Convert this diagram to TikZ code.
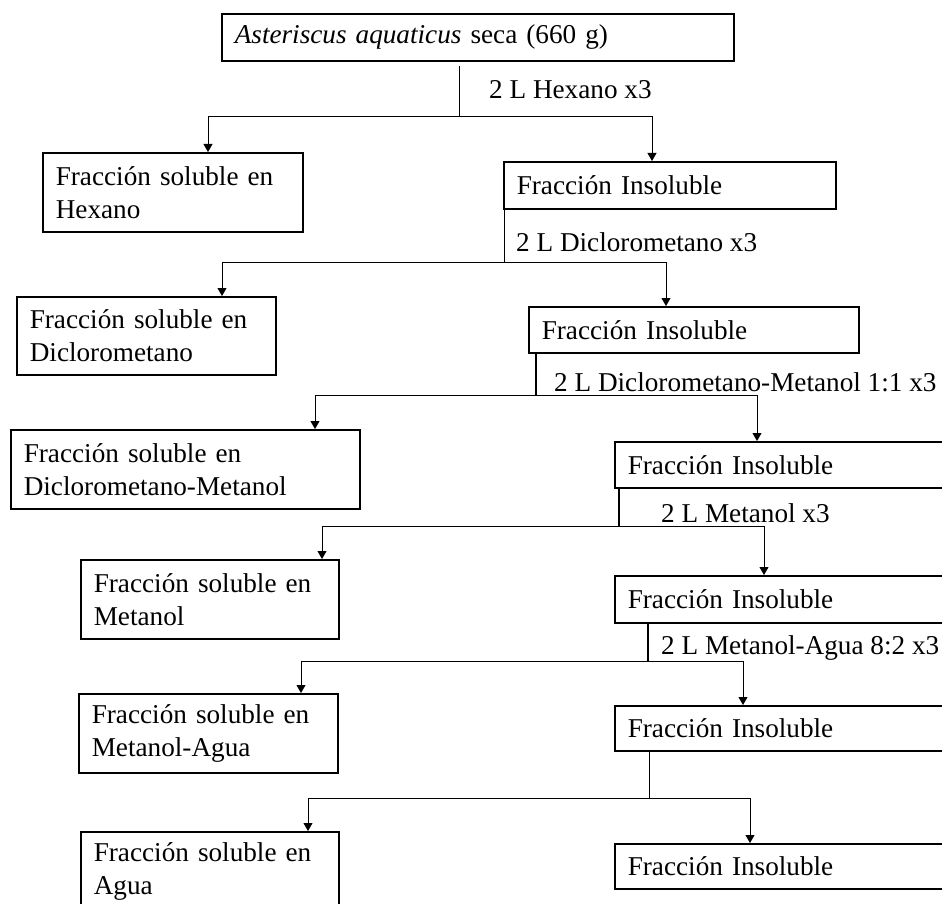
\documentclass[tikz,border=0pt]{standalone}
\usepackage{fontspec}
\setmainfont{Liberation Serif}
\usetikzlibrary{arrows.meta}
\begin{document}
\begin{tikzpicture}
[x=1pt,y=-1pt,
  caja/.style={draw,line width=1.6pt,anchor=north west,inner xsep=13pt,inner ysep=0pt,align=left},%
  flecha/.style={-{Triangle[length=8pt,width=9pt]},line width=0.8pt},%
  every node/.style={font=\fontsize{27.2}{33}\selectfont}]
\useasboundingbox (0,0) rectangle (942,904);
\clip (0,0) rectangle (942,904);
%% boxes
\foreach \nombre/\x/\y/\ancho/\alto/\texto in {
  top/221/13/512/47/{\textit{Asteriscus aquaticus} seca (660 g)},
  s1/42/152/260/79/{Fracción soluble en\\Hexano},
  i1/503/161/332/47/{Fracción Insoluble},
  s2/16/296/259/78/{Fracción soluble en\\Diclorometano},
  i2/528/306/330/46/{Fracción Insoluble},
  s3/10/429/349/79/{Fracción soluble en\\Diclorometano-Metanol},
  i3/614/441/330/46/{Fracción Insoluble},
  s4/80/559/258/79/{Fracción soluble en\\Metanol},
  i4/614/575/330/47/{Fracción Insoluble},
  s5/78/693/259/79/{Fracción soluble en\\Metanol-Agua},
  i5/614/705/330/45/{Fracción Insoluble},
  s6/80/831/258/79/{Fracción soluble en\\Agua},
  i6/614/843/330/45/{Fracción Insoluble}}
{
  \pgfmathsetmacro\anchotexto{\ancho-26}
  \node (\nombre) at (\x,\y) [caja,text width=\anchotexto pt,minimum height=\alto pt] {\texto};
}
%% extraction steps
\foreach \n/\padre/\izq/\der/\sx/\hy/\lx/\rx/\grosor/\hueco in {
  1/top/s1/i1/459/116/208/652/0.8/4,
  2/i1/s2/i2/504/262/222/666/0.8/0,
  3/i2/s3/i3/536/395/315/757/1.8/0,
  4/i3/s4/i4/619/526/322/764/1.8/0,
  5/i4/s5/i5/648/661/301/743/1.8/0,
  6/i5/s6/i6/649/798/308/750/0.8/0}
{
  \coordinate (r\n) at (\sx,\hy);
  \coordinate (l\n) at (\lx,\hy);
  \coordinate (d\n) at (\rx,\hy);
  \draw[line width=\grosor pt,shorten <=\hueco pt] (\padre.south -| r\n) -- (r\n);
  \draw[flecha] (r\n) -- (l\n) -- (l\n |- \izq.north);
  \draw[flecha] (r\n) -- (d\n) -- (d\n |- \der.north);
}
%% solvents
\foreach \n/\x/\y/\texto in {
  1/489/90/{2 L Hexano x3},
  2/516/242/{2 L Diclorometano x3},
  3/554/382/{2 L Diclorometano-Metanol 1:1 x3},
  4/661/513/{2 L Metanol x3},
  5/661/648/{2 L Metanol-Agua 8:2 x3}}
  \node (t\n) at (\x,\y) [anchor=west,inner sep=0pt] {\texto};
\end{tikzpicture}
\end{document}
